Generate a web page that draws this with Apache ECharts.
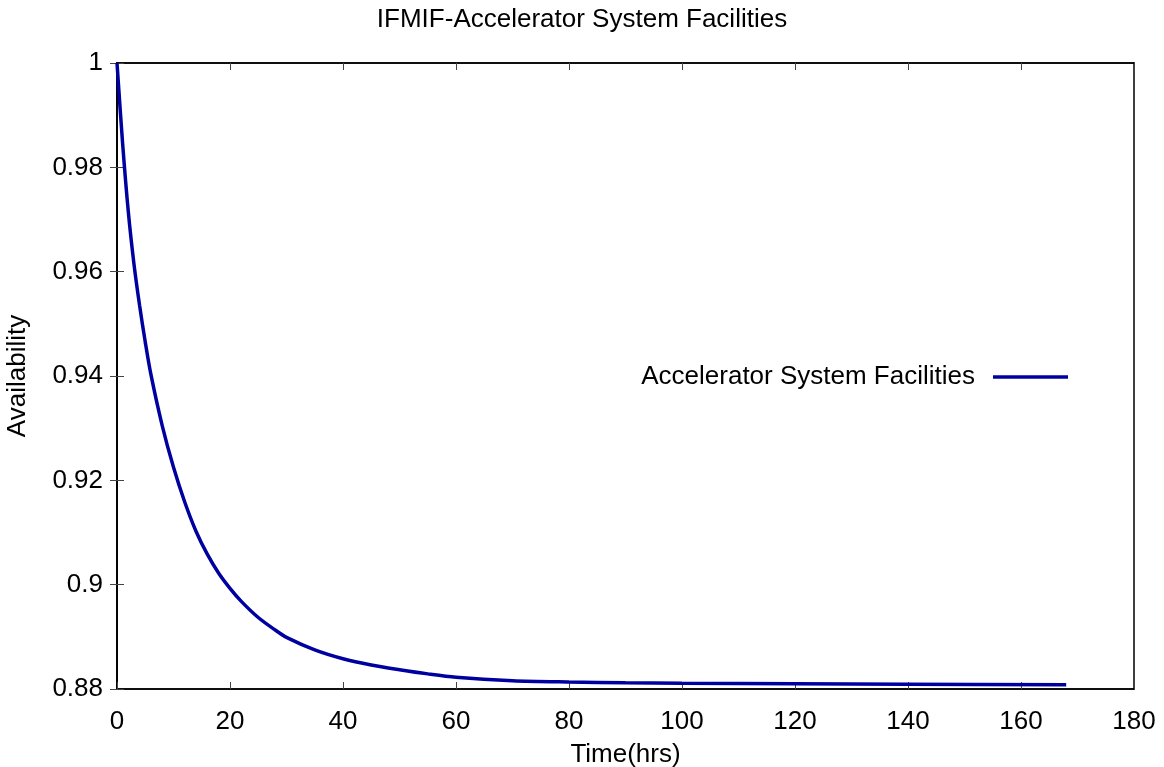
<!DOCTYPE html>
<html>
<head>
<meta charset="utf-8">
<script src="https://cdn.jsdelivr.net/npm/echarts@6/dist/echarts.min.js"></script>
<style>
html,body{margin:0;padding:0;background:#fff;}
#chart{width:1164px;height:767px;}
</style>
</head>
<body>
<div id="chart"></div>
<script>
const chartTitle = 'IFMIF-Accelerator System Facilities';
const seriesName = 'Accelerator System Facilities';
const xName = 'Time(hrs)';
const yName = 'Availability';
const hours = [0, 1, 2, 3, 4, 5, 6, 8, 10, 12, 14, 16, 18, 20, 22, 25, 28, 30, 35, 40, 45, 50, 55, 60, 70, 80, 90, 100, 120, 140, 168];
const availability = [1.0, 0.9845, 0.9715, 0.9615, 0.9535, 0.9465, 0.9403, 0.9305, 0.9225, 0.9158, 0.9102, 0.9058, 0.9022, 0.8993, 0.8968, 0.8937, 0.8913, 0.8899, 0.8875, 0.8858, 0.8846, 0.8837, 0.8829, 0.88225, 0.8816, 0.88135, 0.8812, 0.8811, 0.8810, 0.8809, 0.8808];
const xTicks = [0, 20, 40, 60, 80, 100, 120, 140, 160, 180];
const yTicks = [0.88, 0.9, 0.92, 0.94, 0.96, 0.98, 1];

const FONT = 'Liberation Sans';
const FS = 26;
const data = hours.map((h, i) => [h, availability[i]]);

const chart = echarts.init(document.getElementById('chart'));
const xMin = xTicks[0], xMax = xTicks[xTicks.length - 1], xInt = xTicks[1] - xTicks[0];
const yMin = yTicks[0], yMax = yTicks[yTicks.length - 1], yInt = 0.02;

const tick = {show: true, inside: true, length: 7, lineStyle: {color: '#444', width: 1}};
chart.setOption({
  animation: false,
  backgroundColor: '#fff',
  title: {
    text: chartTitle, left: 'center', top: 2,
    textStyle: {fontFamily: FONT, fontSize: FS, fontWeight: 'normal', color: '#000'}
  },
  legend: {
    data: [seriesName], right: 91, top: 359, align: 'right',
    icon: 'rect', itemWidth: 75, itemHeight: 3.5,
    textStyle: {fontFamily: FONT, fontSize: FS, color: '#000', padding: [0, 13, 0, 0]}
  },
  grid: {left: 117, right: 30, top: 63, bottom: 78, containLabel: false, outerBoundsMode: 'none',
    show: true, borderColor: '#000', borderWidth: 1.5},
  xAxis: [{
    type: 'value', min: xMin, max: xMax, interval: xInt, position: 'bottom',
    name: xName, nameLocation: 'middle', nameGap: 53,
    nameTextStyle: {fontFamily: FONT, fontSize: FS, color: '#000'},
    axisLine: {show: true, lineStyle: {color: '#000', width: 1.5}},
    axisTick: tick,
    axisLabel: {fontFamily: FONT, fontSize: FS, color: '#000', margin: 20},
    splitLine: {show: false}
  }, {
    type: 'value', min: xMin, max: xMax, interval: xInt, position: 'top',
    axisLine: {show: true, lineStyle: {color: '#000', width: 1.5}},
    axisTick: tick, axisLabel: {show: false}, splitLine: {show: false}
  }],
  yAxis: [{
    type: 'value', min: yMin, max: yMax, interval: yInt, position: 'left',
    name: yName, nameLocation: 'middle', nameGap: 86,
    nameTextStyle: {fontFamily: FONT, fontSize: FS, color: '#000'},
    axisLine: {show: true, lineStyle: {color: '#000', width: 1.5}},
    axisTick: tick,
    axisLabel: {fontFamily: FONT, fontSize: FS, color: '#000', margin: 14,
      formatter: v => String(parseFloat(v.toFixed(2)))},
    splitLine: {show: false}
  }, {
    type: 'value', min: yMin, max: yMax, interval: yInt, position: 'right',
    axisLine: {show: true, lineStyle: {color: '#000', width: 1.5}},
    axisTick: tick, axisLabel: {show: false}, splitLine: {show: false}
  }],
  series: [{
    name: seriesName, type: 'line', data: data,
    xAxisIndex: 0, yAxisIndex: 0,
    showSymbol: false, symbol: 'none',
    smooth: 0.3,
    lineStyle: {color: '#0000a0', width: 3.5},
    itemStyle: {color: '#0000a0'}
  }]
});
</script>
</body>
</html>
